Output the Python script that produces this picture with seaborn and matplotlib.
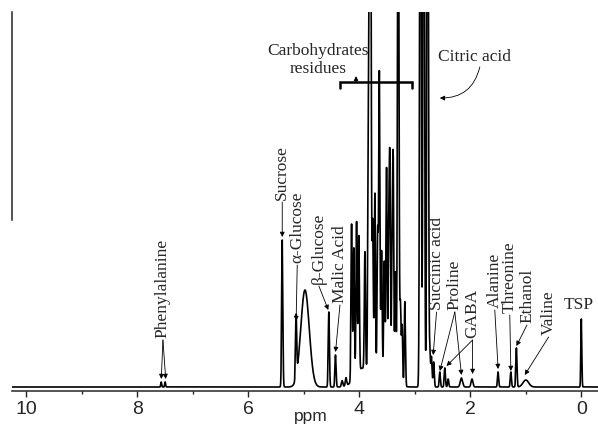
import numpy as np
import pandas as pd
import matplotlib
matplotlib.use("Agg")
import matplotlib.pyplot as plt
import seaborn as sns

# Peak list (ppm, relative intensity, line width in ppm)
peak_ppm = [7.57, 7.50, 5.39, 5.14, 4.98, 4.55, 4.43,
            4.14, 4.10, 4.05, 4.01, 3.90, 3.84, 3.82, 3.80, 3.76, 3.72, 3.67, 3.64,
            3.60, 3.55, 3.51, 3.47, 3.45, 3.41, 3.39, 3.35, 3.30, 3.26, 3.23, 3.18,
            2.90, 2.84, 2.77, 2.73, 2.70, 2.66, 2.55, 2.46, 2.40, 2.16, 1.97,
            1.50, 1.27, 1.17, 1.00, 0.00,
            3.95, 3.58, 4.24, 4.31]
peak_height = [5, 5, 147, 62, 97, 75, 32,
               157, 130, 152, 135, 117, 200, 288, 600, 150, 180, 140, 298,
               120, 110, 205, 130, 200, 120, 205, 110, 600, 80, 60, 85,
               800, 800, 800, 34, 30, 25, 15, 19, 8, 9, 8,
               15, 15, 39, 7, 68,
               18, 16, 8, 6]
peak_width = [0.02, 0.02, 0.025, 0.025, 0.18, 0.025, 0.025,
              0.025, 0.025, 0.025, 0.025, 0.025, 0.025, 0.025, 0.03, 0.025, 0.025, 0.025, 0.025,
              0.025, 0.025, 0.025, 0.025, 0.025, 0.025, 0.025, 0.025, 0.03, 0.025, 0.025, 0.025,
              0.03, 0.03, 0.03, 0.025, 0.025, 0.025, 0.025, 0.025, 0.025, 0.05, 0.04,
              0.025, 0.025, 0.025, 0.12, 0.02,
              0.3, 0.35, 0.03, 0.03]

# Metabolite labels: name, label x (ppm), label bottom (intensity), arrow targets (ppm, intensity)
label_names = ["Phenylalanine", "Sucrose", "\u03b1-Glucose", "\u03b2-Glucose", "Malic Acid",
               "Succinic acid", "Proline", "GABA", "Alanine", "Threonine", "Ethanol", "Valine"]
label_ppm = [7.54, 5.39, 5.12, 4.73, 4.35, 2.61, 2.28, 1.96, 1.56, 1.29, 0.98, 0.59]
label_base = [49, 187, 124, 103, 84, 77, 77, 49, 79, 74, 64, 52]
label_targets = [[(7.57, 8), (7.49, 8)], [(5.39, 150)], [(5.14, 66)], [(4.56, 77)], [(4.43, 35)],
                 [(2.67, 32)], [(2.55, 16), (2.16, 12)], [(2.43, 21), (1.96, 13)],
                 [(1.50, 18)], [(1.27, 16)], [(1.17, 41)], [(1.02, 12)]]

x = np.linspace(-0.5, 10.5, 40000)
y = np.zeros_like(x)
for c, h, w in zip(peak_ppm, peak_height, peak_width):
    y += h * np.exp(-4 * np.log(2) * (x - c) ** 2 / w ** 2)
df = pd.DataFrame({"ppm": x, "intensity": y})

sns.set_style("ticks")
plt.rcParams["font.family"] = ["Liberation Sans", "DejaVu Sans"]

fig = plt.figure(figsize=(5.98, 4.26), dpi=100)
ax = fig.add_axes([12 / 598, 35 / 426, 586 / 598, 379 / 426])
sns.lineplot(data=df, x="ppm", y="intensity", color="black", linewidth=1.2,
             estimator=None, sort=False, ax=ax)

ax.set_xlim(10.26, -0.30)
ax.set_ylim(-4, 375)
ax.set_xticks([0, 2, 4, 6, 8, 10])
ax.set_xticks([1, 3, 5, 7, 9], minor=True)
ax.set_xticklabels(["0", "2", "4", "6", "8", "10"], fontsize=14)
ax.set_yticks([])
ax.set_ylabel("")
ax.tick_params(axis="x", which="major", length=4.5, width=1.0, pad=3, direction="out")
ax.tick_params(axis="x", which="minor", length=2.2, width=1.0, direction="out")
for s in ["top", "right"]:
    ax.spines[s].set_visible(False)
ax.spines["bottom"].set_linewidth(1.1)
ax.spines["left"].set_linewidth(1.1)
ax.spines["left"].set_bounds(167, 375)
ax.set_xlabel("ppm", fontsize=12.5)
ax.xaxis.set_label_coords(0.51, -0.078)
ax.xaxis.label.set_va("baseline")

serif = ["Liberation Serif", "DejaVu Serif"]
arrow = dict(arrowstyle="-|>", color="black", lw=0.6, mutation_scale=7, shrinkA=0, shrinkB=0)

for name, lx, lb, targets in zip(label_names, label_ppm, label_base, label_targets):
    ax.text(lx, lb, name, rotation=90, ha="center", va="bottom", fontsize=12.5, family=serif)
    for tx, ty in targets:
        ax.annotate("", xy=(tx, ty), xytext=(lx, lb - 2), arrowprops=arrow)

ax.text(0.04, 82, "TSP", ha="center", va="center", fontsize=12.5, family=serif)

# carbohydrate bracket
ax.text(4.74, 327, "Carbohydrates\nresidues", ha="center", va="center", fontsize=12.5,
        family=serif, linespacing=1.15)
ax.plot([4.35, 4.35, 3.06, 3.06], [299, 305, 305, 299], color="black", lw=1.8,
        solid_joinstyle="miter")
ax.annotate("", xy=(4.06, 311), xytext=(4.06, 305),
            arrowprops=dict(arrowstyle="-|>", color="black", lw=0.8, mutation_scale=6,
                            shrinkA=0, shrinkB=0))

# citric acid
ax.text(1.92, 330, "Citric acid", ha="center", va="center", fontsize=12.5, family=serif)
ax.annotate("", xy=(2.55, 289), xytext=(1.83, 320),
            arrowprops=dict(arrowstyle="-|>", color="black", lw=0.6, mutation_scale=7,
                            shrinkA=0, shrinkB=0, connectionstyle="arc3,rad=-0.4"))

fig.savefig("out.png", dpi=100)
